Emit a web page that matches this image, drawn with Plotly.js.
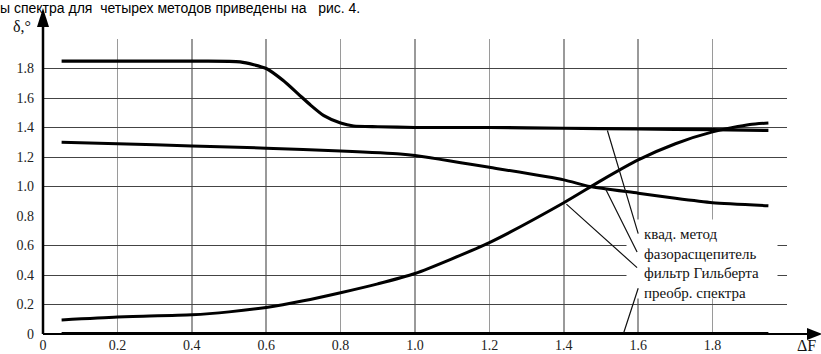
<!DOCTYPE html>
<html>
<head>
<meta charset="utf-8">
<script src="https://cdn.plot.ly/plotly-3.0.1.min.js"></script>
<style>
  html, body { margin: 0; padding: 0; background: #fff; }
  #chart { width: 821px; height: 354px; }
</style>
</head>
<body>
<div id="chart"></div>
<script>
// ---- data ----
const kvadX   = [0.05, 0.2, 0.4, 0.53, 0.6, 0.645, 0.685, 0.72, 0.755, 0.8, 0.835, 0.9, 1.0, 1.2, 1.4, 1.6, 1.8, 1.95];
const kvadY   = [1.85, 1.85, 1.85, 1.845, 1.80, 1.72, 1.63, 1.55, 1.48, 1.43, 1.41, 1.405, 1.40, 1.40, 1.395, 1.39, 1.385, 1.38];

const phaseX  = [0.05, 0.2, 0.4, 0.6, 0.8, 0.96, 1.0, 1.2, 1.4, 1.47, 1.6, 1.7, 1.8, 1.95];
const phaseY  = [1.30, 1.29, 1.275, 1.26, 1.24, 1.22, 1.21, 1.13, 1.045, 1.0, 0.955, 0.92, 0.89, 0.87];

const hilbX   = [0.05, 0.2, 0.4, 0.5, 0.6, 0.7, 0.8, 0.9, 1.0, 1.2, 1.4, 1.5, 1.6, 1.7, 1.8, 1.9, 1.95];
const hilbY   = [0.095, 0.115, 0.13, 0.15, 0.18, 0.225, 0.28, 0.34, 0.41, 0.62, 0.89, 1.04, 1.18, 1.29, 1.37, 1.42, 1.43];

const specX   = [0.05, 1.95];
const specY   = [0, 0];

const seriesNames = ['квад. метод', 'фазорасщепитель', 'фильтр Гильберта', 'преобр. спектра'];

const xTickVals = [0, 0.2, 0.4, 0.6, 0.8, 1.0, 1.2, 1.4, 1.6, 1.8, 2.0];
const xTickText = ['0', '0.2', '0.4', '0.6', '0.8', '1.0', '1.2', '1.4', '1.6', '1.8', ''];
const yTickVals = [0, 0.2, 0.4, 0.6, 0.8, 1.0, 1.2, 1.4, 1.6, 1.8];
const yTickText = ['0', '0.2', '0.4', '0.6', '0.8', '1.0', '1.2', '1.4', '1.6', '1.8'];
const xGridVals = [0.2, 0.4, 0.6, 0.8, 1.0, 1.2, 1.4, 1.6, 1.8, 2.0];
const yGridVals = [0.2, 0.4, 0.6, 1.0, 1.2, 1.4, 1.6, 1.8, 2.0];

const headerText = 'ы спектра для\u00a0 четырех методов приведены на\u00a0\u00a0 рис. 4.';
const yAxisLabel = 'δ,°';
const xAxisLabel = 'ΔF';

// ---- styling ----
const SERIF = 'Liberation Serif';
const SANS = 'Liberation Sans';
const lineStyle = (w) => ({ color: '#000', width: w, shape: 'spline', smoothing: 0.6 });

// pixel helpers for the 744x295 plot area (margins l=43, t=39)
const px = (p) => (p - 43) / 744;      // page x -> paper x
const py = (p) => (334 - p) / 295;     // page y -> paper y

const traces = [
  { x: kvadX,  y: kvadY,  name: seriesNames[0], mode: 'lines', line: lineStyle(3.2), cliponaxis: false },
  { x: phaseX, y: phaseY, name: seriesNames[1], mode: 'lines', line: lineStyle(3),   cliponaxis: false },
  { x: hilbX,  y: hilbY,  name: seriesNames[2], mode: 'lines', line: lineStyle(3),   cliponaxis: false },
  { x: specX,  y: specY,  name: seriesNames[3], mode: 'lines', line: { color: '#000', width: 4 }, cliponaxis: false },
  // invisible trace bound to the grid-only axes
  { x: [], y: [], xaxis: 'x2', yaxis: 'y2', mode: 'lines', hoverinfo: 'skip', showlegend: false }
];

// leader lines: [curve point x, y] -> [label point x, y]
const leaders = [
  { from: [1.516, 1.39], to: [1.60, 0.68] },
  { from: [1.51, 0.995], to: [1.597, 0.556] },
  { from: [1.403, 0.89], to: [1.597, 0.45] },
  { from: [1.56, 0.0],   to: [1.60, 0.31] }
];

const annotations = [
  // white label box
  { xref: 'x', yref: 'y', x: 1.772, y: 0.508, xanchor: 'center', yanchor: 'middle', text: ' ', showarrow: false,
    width: 150, height: 78, bgcolor: '#fff', borderpad: 0, font: { size: 2 } },
  // label text block
  { xref: 'x', yref: 'y', x: 1.613, y: 0.481, xanchor: 'left', yanchor: 'middle', align: 'left',
    text: seriesNames.join('<br>'), showarrow: false, borderpad: 0,
    font: { family: SERIF, size: 15, color: '#111' } },
  // axis labels
  { xref: 'paper', yref: 'paper', x: px(22), y: py(27), xanchor: 'center', yanchor: 'middle', borderpad: 0,
    text: yAxisLabel, showarrow: false, font: { family: SERIF, size: 16, color: '#111' } },
  { xref: 'paper', yref: 'paper', x: px(806), y: py(345), xanchor: 'center', yanchor: 'middle', borderpad: 0,
    text: xAxisLabel, showarrow: false, font: { family: SERIF, size: 16, color: '#111' } },
  // header text (partly cut off at top in the reference)
  { xref: 'paper', yref: 'paper', x: px(-1), y: py(8.5), xanchor: 'left', yanchor: 'middle', borderpad: 0,
    text: headerText, showarrow: false, font: { family: SANS, size: 14, color: '#000' } }
];

leaders.forEach(l => annotations.push({
  xref: 'x', yref: 'y', axref: 'x', ayref: 'y',
  x: l.to[0], y: l.to[1], ax: l.from[0], ay: l.from[1],
  text: '', showarrow: true, arrowhead: 0, arrowwidth: 1.2, arrowcolor: '#111',
  standoff: 0, startstandoff: 0
}));

const shapes = [
  // y axis line with arrow head
  { type: 'line', xref: 'paper', yref: 'paper', x0: 0, x1: 0, y0: 0, y1: py(22),
    line: { color: '#000', width: 2.5 }, layer: 'above' },
  { type: 'path', xref: 'paper', yref: 'paper',
    path: `M ${px(43)} ${py(8)} L ${px(37)} ${py(27)} L ${px(49)} ${py(27)} Z`,
    fillcolor: '#000', line: { width: 0 }, layer: 'above' },
  // x axis line with arrow head
  { type: 'line', xref: 'paper', yref: 'paper', x0: 0, x1: px(810), y0: 0, y1: 0,
    line: { color: '#000', width: 2.2 }, layer: 'above' },
  { type: 'path', xref: 'paper', yref: 'paper',
    path: `M ${px(822)} ${py(334)} L ${px(807)} ${py(328)} L ${px(807)} ${py(340)} Z`,
    fillcolor: '#000', line: { width: 0 }, layer: 'above' }
];

const layout = {
  width: 821, height: 354,
  margin: { l: 43, r: 34, t: 39, b: 20, pad: 0 },
  paper_bgcolor: '#fff', plot_bgcolor: '#fff',
  showlegend: false,
  xaxis: {
    range: [0, 2], tickvals: xTickVals, ticktext: xTickText,
    showgrid: false, zeroline: false, showline: false, ticks: '', ticklabelstandoff: 1,
    tickfont: { family: SERIF, size: 14, color: '#222' }, fixedrange: true
  },
  yaxis: {
    range: [0, 2], tickvals: yTickVals, ticktext: yTickText,
    showgrid: false, zeroline: false, showline: false, ticks: '', ticklabelstandoff: 8,
    tickfont: { family: SERIF, size: 14, color: '#222' }, fixedrange: true
  },
  xaxis2: {
    range: [0, 2], overlaying: 'x', tickvals: xGridVals, showticklabels: false,
    showgrid: true, gridcolor: '#9a9a9a', gridwidth: 1.5, zeroline: false, showline: false, ticks: '',
    fixedrange: true
  },
  yaxis2: {
    range: [0, 2], overlaying: 'y', tickvals: yGridVals, showticklabels: false,
    showgrid: true, gridcolor: '#444', gridwidth: 1, zeroline: false, showline: false, ticks: '',
    fixedrange: true
  },
  shapes: shapes,
  annotations: annotations
};

Plotly.newPlot('chart', traces, layout, { displayModeBar: false, staticPlot: true });
</script>
</body>
</html>
